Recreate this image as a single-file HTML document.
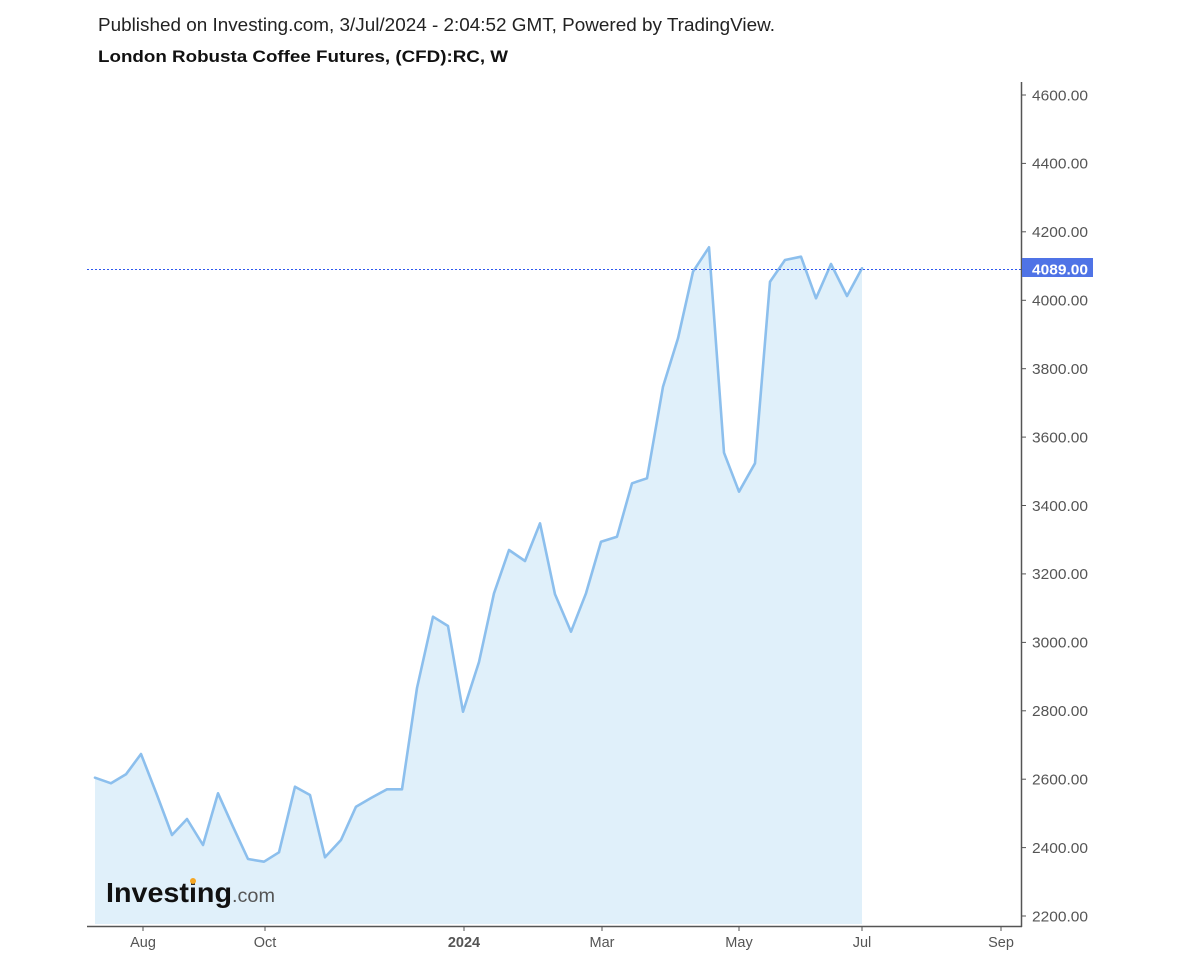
<!DOCTYPE html>
<html>
<head>
<meta charset="utf-8">
<style>
  html,body{margin:0;padding:0;background:#ffffff;}
  body{width:1200px;height:960px;overflow:hidden;}
  svg{display:block;}
  text{font-family:"Liberation Sans",Arial,sans-serif;}
</style>
</head>
<body>
<svg width="1200" height="960" viewBox="0 0 1200 960" xmlns="http://www.w3.org/2000/svg">
  <rect x="0" y="0" width="1200" height="960" fill="#ffffff"/>

  <!-- Header -->
  <text x="98" y="31" font-size="18.5" fill="#222222" textLength="677" lengthAdjust="spacingAndGlyphs">Published on Investing.com, 3/Jul/2024 - 2:04:52 GMT, Powered by TradingView.</text>
  <text x="98" y="62" font-size="17" font-weight="bold" fill="#111111" textLength="410" lengthAdjust="spacingAndGlyphs">London Robusta Coffee Futures, (CFD):RC, W</text>

  <!-- Area fill -->
  <polygon fill="#e0f0fa" points="95,924 95,777.7 111,783.3 126,774.3 141,754 157,795 172,835 187,819 203,845 218,793.3 233,826.7 248,859 264,861.7 279,852.3 295,786.7 310,795 325,857.3 341,840 356,806.7 371,798 387,789.3 402,789.3 417,688 433,616.7 448,626 463,711.7 479,662 494,593.3 509,550 525,561 540,523.3 555,594.3 571,631.7 586,593.3 601,541.7 617,536.7 632,483.3 647,478.3 663,386.7 678,338.3 693,271.7 709,247.3 724,452.7 739,491.7 755,463.3 770,281.7 785,260 801,256.7 816,298.3 831,264 847,296 862,268.3 862,924"/>

  <!-- Line -->
  <polyline fill="none" stroke="#8cbfed" stroke-width="2.6" stroke-linejoin="round" stroke-linecap="round" points="95,777.7 111,783.3 126,774.3 141,754 157,795 172,835 187,819 203,845 218,793.3 233,826.7 248,859 264,861.7 279,852.3 295,786.7 310,795 325,857.3 341,840 356,806.7 371,798 387,789.3 402,789.3 417,688 433,616.7 448,626 463,711.7 479,662 494,593.3 509,550 525,561 540,523.3 555,594.3 571,631.7 586,593.3 601,541.7 617,536.7 632,483.3 647,478.3 663,386.7 678,338.3 693,271.7 709,247.3 724,452.7 739,491.7 755,463.3 770,281.7 785,260 801,256.7 816,298.3 831,264 847,296 862,268.3"/>

  <!-- Price line (dotted) -->
  <line x1="87" y1="269.5" x2="1021" y2="269.5" stroke="#2f58ee" stroke-width="1" stroke-dasharray="2,2" shape-rendering="crispEdges"/>

  <!-- Logo -->
  <text x="106" y="902" font-size="28" font-weight="bold" fill="#111111" textLength="126" lengthAdjust="spacingAndGlyphs">Investing</text>
  <text x="232" y="902" font-size="19" fill="#555555" textLength="43" lengthAdjust="spacingAndGlyphs">.com</text>
  <circle cx="193" cy="881" r="3" fill="#f5a623"/>

  <!-- Axes -->
  <line x1="1021.5" y1="82" x2="1021.5" y2="927" stroke="#555555" stroke-width="1.5"/>
  <line x1="87" y1="926.5" x2="1022" y2="926.5" stroke="#555555" stroke-width="1.5"/>

  <!-- Y ticks & labels -->
  <g stroke="#555555" stroke-width="1">
    <line x1="1022" y1="95" x2="1026" y2="95"/>
    <line x1="1022" y1="163.4" x2="1026" y2="163.4"/>
    <line x1="1022" y1="231.8" x2="1026" y2="231.8"/>
    <line x1="1022" y1="300.3" x2="1026" y2="300.3"/>
    <line x1="1022" y1="368.7" x2="1026" y2="368.7"/>
    <line x1="1022" y1="437.1" x2="1026" y2="437.1"/>
    <line x1="1022" y1="505.5" x2="1026" y2="505.5"/>
    <line x1="1022" y1="573.9" x2="1026" y2="573.9"/>
    <line x1="1022" y1="642.4" x2="1026" y2="642.4"/>
    <line x1="1022" y1="710.8" x2="1026" y2="710.8"/>
    <line x1="1022" y1="779.2" x2="1026" y2="779.2"/>
    <line x1="1022" y1="847.6" x2="1026" y2="847.6"/>
    <line x1="1022" y1="916" x2="1026" y2="916"/>
  </g>
  <g font-size="15" fill="#555555">
    <text x="1032" y="100.3" textLength="56" lengthAdjust="spacingAndGlyphs">4600.00</text>
    <text x="1032" y="168.7" textLength="56" lengthAdjust="spacingAndGlyphs">4400.00</text>
    <text x="1032" y="237.1" textLength="56" lengthAdjust="spacingAndGlyphs">4200.00</text>
    <text x="1032" y="305.6" textLength="56" lengthAdjust="spacingAndGlyphs">4000.00</text>
    <text x="1032" y="374" textLength="56" lengthAdjust="spacingAndGlyphs">3800.00</text>
    <text x="1032" y="442.4" textLength="56" lengthAdjust="spacingAndGlyphs">3600.00</text>
    <text x="1032" y="510.8" textLength="56" lengthAdjust="spacingAndGlyphs">3400.00</text>
    <text x="1032" y="579.2" textLength="56" lengthAdjust="spacingAndGlyphs">3200.00</text>
    <text x="1032" y="647.7" textLength="56" lengthAdjust="spacingAndGlyphs">3000.00</text>
    <text x="1032" y="716.1" textLength="56" lengthAdjust="spacingAndGlyphs">2800.00</text>
    <text x="1032" y="784.5" textLength="56" lengthAdjust="spacingAndGlyphs">2600.00</text>
    <text x="1032" y="852.9" textLength="56" lengthAdjust="spacingAndGlyphs">2400.00</text>
    <text x="1032" y="921.3" textLength="56" lengthAdjust="spacingAndGlyphs">2200.00</text>
  </g>

  <!-- Last price label -->
  <rect x="1022" y="258" width="71" height="19" fill="#4f73e6"/>
  <text x="1032" y="274.5" font-size="15" font-weight="bold" fill="#ffffff" textLength="56" lengthAdjust="spacingAndGlyphs">4089.00</text>

  <!-- X ticks & labels -->
  <g stroke="#555555" stroke-width="1">
    <line x1="143" y1="927" x2="143" y2="931"/>
    <line x1="265" y1="927" x2="265" y2="931"/>
    <line x1="464" y1="927" x2="464" y2="931"/>
    <line x1="602" y1="927" x2="602" y2="931"/>
    <line x1="739" y1="927" x2="739" y2="931"/>
    <line x1="862" y1="927" x2="862" y2="931"/>
    <line x1="1001" y1="927" x2="1001" y2="931"/>
  </g>
  <g font-size="14.5" fill="#555555" text-anchor="middle">
    <text x="143" y="947">Aug</text>
    <text x="265" y="947">Oct</text>
    <text x="464" y="947" font-weight="bold">2024</text>
    <text x="602" y="947">Mar</text>
    <text x="739" y="947">May</text>
    <text x="862" y="947">Jul</text>
    <text x="1001" y="947">Sep</text>
  </g>
</svg>
</body>
</html>
